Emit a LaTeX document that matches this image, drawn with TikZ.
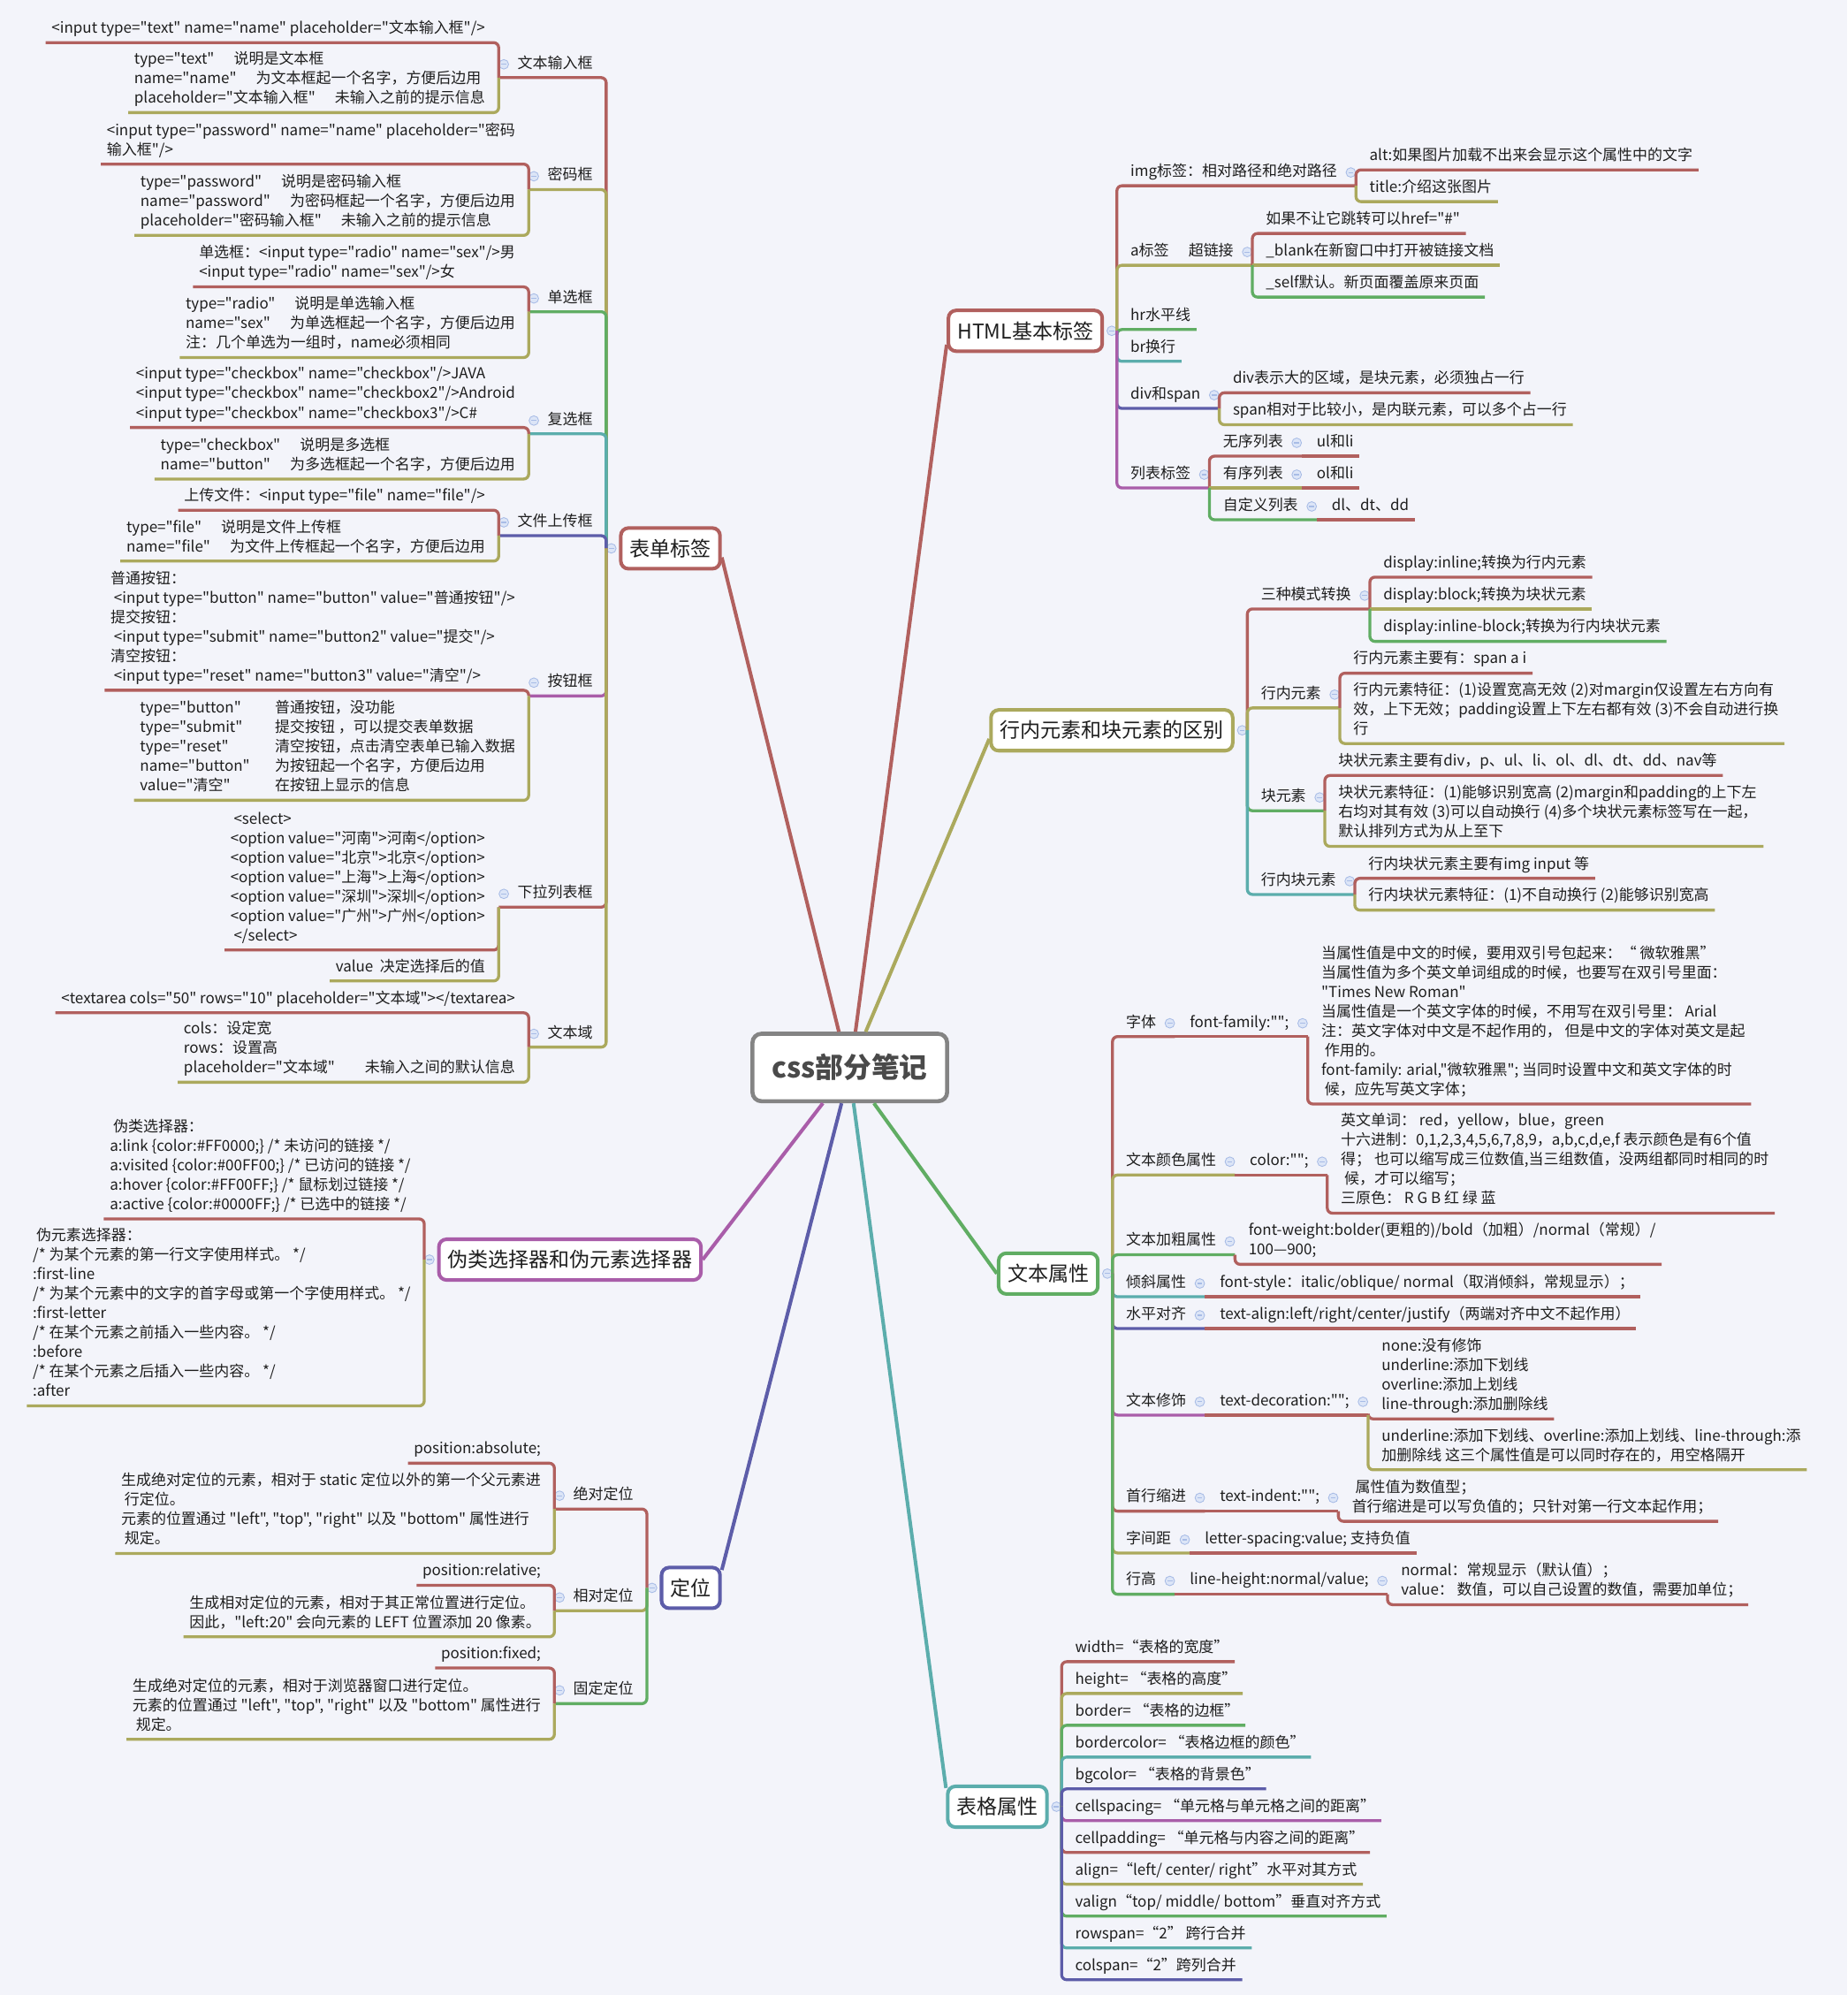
\documentclass[tikz,border=0pt]{standalone}
\usepackage{fontspec}
\setmainfont{Noto Sans CJK SC}[Ligatures=TeXOff]
\usepackage{xcolor}
\usepackage{tikz}
\usetikzlibrary{positioning,calc}
\definecolor{mapRed}{HTML}{B1605E}
\definecolor{mapOlive}{HTML}{ABA95D}
\definecolor{mapGreen}{HTML}{60AD63}
\definecolor{mapTeal}{HTML}{5BADAC}
\definecolor{mapBlue}{HTML}{5D5DA9}
\definecolor{mapPurple}{HTML}{A95DA9}
\definecolor{mapGrey}{HTML}{848484}
\definecolor{mapInk}{HTML}{1E1E1E}
\definecolor{mapRootInk}{HTML}{4A4A4A}
\definecolor{mapPaper}{HTML}{F3F4FA}
\definecolor{foldFill}{HTML}{DCE5F7}
\definecolor{foldEdge}{HTML}{A8BCE6}
\newcommand{\colgap}{\hspace{1.3em}}
\newcommand{\btncol}[1]{\makebox[106pt][l]{#1}}

\begin{document}
\begin{tikzpicture}[
  x=1pt,y=-1pt,
  every node/.style={text=mapInk},
  root/.style={rectangle,rounded corners=7pt,draw=mapGrey,line width=3.2pt,fill=white,minimum width=153pt,minimum height=53pt,font=\fontsize{22}{26}\selectfont\bfseries,text=mapRootInk},
  topic/.style={rectangle,rounded corners=6pt,line width=2.8pt,fill=white,minimum height=32pt,inner xsep=7pt,font=\fontsize{16}{19}\selectfont},
  note/.style={inner xsep=4.5pt,inner ysep=2.6pt,align=left,font=\fontsize{11.8}{15.3}\selectfont,execute at begin node=\strut,execute at end node=\strut},
  fold/.style={circle,draw=foldEdge,fill=foldFill,line width=0.6pt,inner sep=0pt,minimum size=7.5pt,path picture={\draw[foldEdge,line width=0.8pt] ([xshift=-2pt]path picture bounding box.center) -- ([xshift=2pt]path picture bounding box.center);}},
  wire/.style={line width=2.3pt,rounded corners=4pt},
  spoke/.style={line width=2.8pt}
]
\fill[mapPaper] (0,0) rectangle (1452,1568);
\useasboundingbox (0,0) rectangle (1452,1568);

\node[root] (css) at (668,839) {css部分笔记};
\node[topic,draw=mapRed] (form) at (527,431) {表单标签};
\node[topic,draw=mapRed] (html) at (806,260) {HTML基本标签};
\node[topic,draw=mapOlive] (disp) at (874,574) {行内元素和块元素的区别};
\node[topic,draw=mapGreen] (text) at (824,1001) {文本属性};
\node[topic,draw=mapTeal] (table) at (784,1420) {表格属性};
\node[topic,draw=mapBlue] (pos) at (543,1248) {定位};
\node[topic,draw=mapPurple] (pseudo) at (448,990) {伪类选择器和伪元素选择器};

\draw[spoke,mapRed] (css.107) -- (form.-10);
\draw[spoke,mapRed] (css.81) -- (html.190);
\draw[spoke,mapOlive] (css.66) -- (disp.184);
\draw[spoke,mapGreen] (css.-56) -- (text.west);
\draw[spoke,mapTeal] (css.-84) -- (table.160);
\draw[spoke,mapBlue] (css.-103) -- (pos.30);
\draw[spoke,mapPurple] (css.-127) -- (pseudo.east);

\node[fold,left=2pt of form] (form-f) {};
\coordinate (form-a) at (form-f.west);

\node[note,anchor=south east] (wb) at ($(form-a)+(-6,-370)$) {文本输入框};
\node[fold,left=2pt of wb] (wb-f) {};
\coordinate (wb-a) at (wb-f.west |- wb.south);
\node[note,anchor=south east] (wb1) at ($(wb-a)+(-6,-27.5)$) {<input type="text" name="name" placeholder="文本输入框"/>};
\node[note,anchor=south east] (wb2) at ($(wb-a)+(-6,27.5)$) {type="text"\colgap 说明是文本框\\name="name"\colgap 为文本框起一个名字，方便后边用\\placeholder="文本输入框"\colgap 未输入之前的提示信息};
\draw[wire,mapRed] (form-a) |- (wb-a);
\draw[wire,mapRed] (wb-a) |- (wb1.south west);
\draw[wire,mapOlive] (wb-a) |- (wb2.south west);

\node[note,anchor=south east] (mm) at ($(form-a)+(-6,-282)$) {密码框};
\node[fold,left=2pt of mm] (mm-f) {};
\coordinate (mm-a) at (mm-f.west |- mm.south);
\node[note,anchor=south east] (mm1) at ($(mm-a)+(-6,-20)$) {<input type="password" name="name" placeholder="密码\\输入框"/>};
\node[note,anchor=south east] (mm2) at ($(mm-a)+(-6,36)$) {type="password"\colgap 说明是密码输入框\\name="password"\colgap 为密码框起一个名字，方便后边用\\placeholder="密码输入框"\colgap 未输入之前的提示信息};
\draw[wire,mapOlive] (form-a) |- (mm-a);
\draw[wire,mapRed] (mm-a) |- (mm1.south west);
\draw[wire,mapOlive] (mm-a) |- (mm2.south west);

\node[note,anchor=south east] (dx) at ($(form-a)+(-6,-186)$) {单选框};
\node[fold,left=2pt of dx] (dx-f) {};
\coordinate (dx-a) at (dx-f.west |- dx.south);
\node[note,anchor=south east] (dx1) at ($(dx-a)+(-6,-19.5)$) {单选框：<input type="radio" name="sex"/>男\\<input type="radio" name="sex"/>女};
\node[note,anchor=south east] (dx2) at ($(dx-a)+(-6,36)$) {type="radio"\colgap 说明是单选输入框\\name="sex"\colgap 为单选框起一个名字，方便后边用\\注：几个单选为一组时，name必须相同};
\draw[wire,mapGreen] (form-a) |- (dx-a);
\draw[wire,mapRed] (dx-a) |- (dx1.south west);
\draw[wire,mapOlive] (dx-a) |- (dx2.south west);

\node[note,anchor=south east] (fx) at ($(form-a)+(-6,-90)$) {复选框};
\node[fold,left=2pt of fx] (fx-f) {};
\coordinate (fx-a) at (fx-f.west |- fx.south);
\node[note,anchor=south east] (fx1) at ($(fx-a)+(-6,-5)$) {<input type="checkbox" name="checkbox"/>JAVA\\<input type="checkbox" name="checkbox2"/>Android\\<input type="checkbox" name="checkbox3"/>C\#};
\node[note,anchor=south east] (fx2) at ($(fx-a)+(-6,35.5)$) {type="checkbox"\colgap 说明是多选框\\name="button"\colgap 为多选框起一个名字，方便后边用};
\draw[wire,mapTeal] (form-a) |- (fx-a);
\draw[wire,mapRed] (fx-a) |- (fx1.south west);
\draw[wire,mapOlive] (fx-a) |- (fx2.south west);

\node[note,anchor=south east] (sc) at ($(form-a)+(-6,-10)$) {文件上传框};
\node[fold,left=2pt of sc] (sc-f) {};
\coordinate (sc-a) at (sc-f.west |- sc.south);
\node[note,anchor=south east] (sc1) at ($(sc-a)+(-6,-20)$) {上传文件：<input type="file" name="file"/>};
\node[note,anchor=south east] (sc2) at ($(sc-a)+(-6,20)$) {type="file"\colgap 说明是文件上传框\\name="file"\colgap 为文件上传框起一个名字，方便后边用};
\draw[wire,mapBlue] (form-a) |- (sc-a);
\draw[wire,mapRed] (sc-a) |- (sc1.south west);
\draw[wire,mapOlive] (sc-a) |- (sc2.south west);

\node[note,anchor=south east] (an) at ($(form-a)+(-6,116)$) {按钮框};
\node[fold,left=2pt of an] (an-f) {};
\coordinate (an-a) at (an-f.west |- an.south);
\node[note,anchor=south east] (an1) at ($(an-a)+(-6,-4.5)$) {普通按钮：\\\ <input type="button" name="button" value="普通按钮"/>\\提交按钮：\\\ <input type="submit" name="button2" value="提交"/>\\清空按钮：\\\ <input type="reset" name="button3" value="清空"/>};
\node[note,anchor=south east] (an2) at ($(an-a)+(-6,82)$) {\btncol{type="button"}普通按钮，没功能\\\btncol{type="submit"}提交按钮 ，可以提交表单数据\\\btncol{type="reset"}清空按钮，点击清空表单已输入数据\\\btncol{name="button"}为按钮起一个名字，方便后边用\\\btncol{value="清空"}在按钮上显示的信息};
\draw[wire,mapPurple] (form-a) |- (an-a);
\draw[wire,mapRed] (an-a) |- (an1.south west);
\draw[wire,mapOlive] (an-a) |- (an2.south west);

\node[note,anchor=south east] (xl) at ($(form-a)+(-6,282)$) {下拉列表框};
\node[fold,left=2pt of xl] (xl-f) {};
\coordinate (xl-a) at (xl-f.west |- xl.south);
\node[note,anchor=south east] (xl1) at ($(xl-a)+(-6,33.7)$) {\ <select>\\<option value="河南">河南</option>\\<option value="北京">北京</option>\\<option value="上海">上海</option>\\<option value="深圳">深圳</option>\\<option value="广州">广州</option>\\\ </select>};
\node[note,anchor=south east] (xl2) at ($(xl-a)+(-6,58)$) {value\ \ 决定选择后的值};
\draw[wire,mapRed] (form-a) |- (xl-a);
\draw[wire,mapRed] (xl-a) |- (xl1.south west);
\draw[wire,mapOlive] (xl-a) |- (xl2.south west);

\node[note,anchor=south east] (wy) at ($(form-a)+(-6,392)$) {文本域};
\node[fold,left=2pt of wy] (wy-f) {};
\coordinate (wy-a) at (wy-f.west |- wy.south);
\node[note,anchor=south east] (wy1) at ($(wy-a)+(-6,-27)$) {<textarea cols="50" rows="10" placeholder="文本域"></textarea>};
\node[note,anchor=south east] (wy2) at ($(wy-a)+(-6,27.6)$) {cols：设定宽\\rows：设置高\\placeholder="文本域"\qquad 未输入之间的默认信息};
\draw[wire,mapOlive] (form-a) |- (wy-a);
\draw[wire,mapRed] (wy-a) |- (wy1.south west);
\draw[wire,mapOlive] (wy-a) |- (wy2.south west);

\node[fold,left=2pt of pseudo] (pseudo-f) {};
\coordinate (pseudo-a) at (pseudo-f.west);
\node[note,anchor=south east] (pc) at ($(pseudo-a)+(-6,-32)$) {\ 伪类选择器：\\a:link \{color:\#FF0000;\} /* 未访问的链接 */\\a:visited \{color:\#00FF00;\} /* 已访问的链接 */\\a:hover \{color:\#FF00FF;\} /* 鼠标划过链接 */\\a:active \{color:\#0000FF;\} /* 已选中的链接 */};
\node[note,anchor=south east] (pe) at ($(pseudo-a)+(-6,115)$) {\ 伪元素选择器：\\/* 为某个元素的第一行文字使用样式。 */\\:first-line\\/* 为某个元素中的文字的首字母或第一个字使用样式。 */\\:first-letter\\/* 在某个元素之前插入一些内容。 */\\:before\\/* 在某个元素之后插入一些内容。 */\\:after};
\draw[wire,mapRed] (pseudo-a) |- (pc.south west);
\draw[wire,mapOlive] (pseudo-a) |- (pe.south west);

\node[fold,left=2pt of pos] (pos-f) {};
\coordinate (pos-a) at (pos-f.west);

\node[note,anchor=south east] (jd) at ($(pos-a)+(-6,-62)$) {绝对定位};
\node[fold,left=2pt of jd] (jd-f) {};
\coordinate (jd-a) at (jd-f.west |- jd.south);
\node[note,anchor=south east] (jd1) at ($(jd-a)+(-6,-36)$) {position:absolute;};
\node[note,anchor=south east] (jd2) at ($(jd-a)+(-6,35)$) {生成绝对定位的元素，相对于 static 定位以外的第一个父元素进\\\ 行定位。\\元素的位置通过 "left", "top", "right" 以及 "bottom" 属性进行\\\ 规定。};
\draw[wire,mapRed] (pos-a) |- (jd-a);
\draw[wire,mapRed] (jd-a) |- (jd1.south west);
\draw[wire,mapOlive] (jd-a) |- (jd2.south west);

\node[note,anchor=south east] (xd) at ($(pos-a)+(-6,18)$) {相对定位};
\node[fold,left=2pt of xd] (xd-f) {};
\coordinate (xd-a) at (xd-f.west |- xd.south);
\node[note,anchor=south east] (xd1) at ($(xd-a)+(-6,-20)$) {position:relative;};
\node[note,anchor=south east] (xd2) at ($(xd-a)+(-6,20.5)$) {生成相对定位的元素，相对于其正常位置进行定位。\\因此，"left:20" 会向元素的 LEFT 位置添加 20 像素。};
\draw[wire,mapOlive] (pos-a) |- (xd-a);
\draw[wire,mapRed] (xd-a) |- (xd1.south west);
\draw[wire,mapOlive] (xd-a) |- (xd2.south west);

\node[note,anchor=south east] (gd) at ($(pos-a)+(-6,91)$) {固定定位};
\node[fold,left=2pt of gd] (gd-f) {};
\coordinate (gd-a) at (gd-f.west |- gd.south);
\node[note,anchor=south east] (gd1) at ($(gd-a)+(-6,-28)$) {position:fixed;};
\node[note,anchor=south east] (gd2) at ($(gd-a)+(-6,28)$) {生成绝对定位的元素，相对于浏览器窗口进行定位。\\元素的位置通过 "left", "top", "right" 以及 "bottom" 属性进行\\\ 规定。};
\draw[wire,mapGreen] (pos-a) |- (gd-a);
\draw[wire,mapRed] (gd-a) |- (gd1.south west);
\draw[wire,mapOlive] (gd-a) |- (gd2.south west);

\node[fold,right=2pt of html] (html-f) {};
\coordinate (html-a) at (html-f.east);

\node[note,anchor=south west] (img) at ($(html-a)+(6,-114)$) {img标签：相对路径和绝对路径};
\node[fold,right=2pt of img] (img-f) {};
\coordinate (img-a) at (img-f.east |- img.south);
\node[note,anchor=south west] (img1) at ($(img-a)+(6,-12.5)$) {alt:如果图片加载不出来会显示这个属性中的文字};
\node[note,anchor=south west] (img2) at ($(img-a)+(6,12.5)$) {title:介绍这张图片};
\draw[wire,mapRed] (html-a) |- (img-a);
\draw[wire,mapRed] (img-a) |- (img1.south east);
\draw[wire,mapOlive] (img-a) |- (img2.south east);

\node[note,anchor=south west] (link) at ($(html-a)+(6,-51.5)$) {a标签\colgap 超链接};
\node[fold,right=2pt of link] (link-f) {};
\coordinate (link-a) at (link-f.east |- link.south);
\node[note,anchor=south west] (link1) at ($(link-a)+(6,-25)$) {如果不让它跳转可以href="\#"};
\node[note,anchor=south west] (link2) at ($(link-a)+(6,0)$) {\_blank在新窗口中打开被链接文档};
\node[note,anchor=south west] (link3) at ($(link-a)+(6,25)$) {\_self默认。新页面覆盖原来页面};
\draw[wire,mapOlive] (html-a) |- (link-a);
\draw[wire,mapRed] (link-a) |- (link1.south east);
\draw[wire,mapOlive] (link-a) -- (link2.south east);
\draw[wire,mapGreen] (link-a) |- (link3.south east);

\node[note,anchor=south west] (hr) at ($(html-a)+(6,-1)$) {hr水平线};
\draw[wire,mapGreen] (html-a) |- (hr.south east);
\node[note,anchor=south west] (br) at ($(html-a)+(6,24)$) {br换行};
\draw[wire,mapTeal] (html-a) |- (br.south east);

\node[note,anchor=south west] (dv) at ($(html-a)+(6,61)$) {div和span};
\node[fold,right=2pt of dv] (dv-f) {};
\coordinate (dv-a) at (dv-f.east |- dv.south);
\node[note,anchor=south west] (dv1) at ($(dv-a)+(6,-12.3)$) {div表示大的区域，是块元素，必须独占一行};
\node[note,anchor=south west] (dv2) at ($(dv-a)+(6,12.8)$) {span相对于比较小，是内联元素，可以多个占一行};
\draw[wire,mapBlue] (html-a) |- (dv-a);
\draw[wire,mapRed] (dv-a) |- (dv1.south east);
\draw[wire,mapOlive] (dv-a) |- (dv2.south east);

\node[note,anchor=south west] (lb) at ($(html-a)+(6,123.5)$) {列表标签};
\node[fold,right=2pt of lb] (lb-f) {};
\coordinate (lb-a) at (lb-f.east |- lb.south);
\draw[wire,mapPurple] (html-a) |- (lb-a);
\node[note,anchor=south west] (ul) at ($(lb-a)+(6,-25)$) {无序列表};
\node[fold,right=2pt of ul] (ul-f) {};
\coordinate (ul-a) at (ul-f.east |- ul.south);
\node[note,right=7pt of ul-f] (ul1) {ul和li};
\draw[wire,mapRed] (lb-a) |- (ul-a);
\draw[wire,mapRed] (ul-a) -- (ul1.south east);
\node[note,anchor=south west] (ol) at ($(lb-a)+(6,0)$) {有序列表};
\node[fold,right=2pt of ol] (ol-f) {};
\coordinate (ol-a) at (ol-f.east |- ol.south);
\node[note,right=7pt of ol-f] (ol1) {ol和li};
\draw[wire,mapOlive] (lb-a) -- (ol-a);
\draw[wire,mapRed] (ol-a) -- (ol1.south east);
\node[note,anchor=south west] (dl) at ($(lb-a)+(6,25)$) {自定义列表};
\node[fold,right=2pt of dl] (dl-f) {};
\coordinate (dl-a) at (dl-f.east |- dl.south);
\node[note,right=7pt of dl-f] (dl1) {dl、dt、dd};
\draw[wire,mapGreen] (lb-a) |- (dl-a);
\draw[wire,mapRed] (dl-a) -- (dl1.south east);

\node[fold,right=2pt of disp] (disp-f) {};
\coordinate (disp-a) at (disp-f.east);

\node[note,anchor=south west] (ms) at ($(disp-a)+(6,-95.4)$) {三种模式转换};
\node[fold,right=2pt of ms] (ms-f) {};
\coordinate (ms-a) at (ms-f.east |- ms.south);
\node[note,anchor=south west] (ms1) at ($(ms-a)+(6,-25)$) {display:inline;转换为行内元素};
\node[note,anchor=south west] (ms2) at ($(ms-a)+(6,0)$) {display:block;转换为块状元素};
\node[note,anchor=south west] (ms3) at ($(ms-a)+(6,25.5)$) {display:inline-block;转换为行内块状元素};
\draw[wire,mapRed] (disp-a) |- (ms-a);
\draw[wire,mapRed] (ms-a) |- (ms1.south east);
\draw[wire,mapOlive] (ms-a) -- (ms2.south east);
\draw[wire,mapGreen] (ms-a) |- (ms3.south east);

\node[note,anchor=south west] (hn) at ($(disp-a)+(6,-17.6)$) {行内元素};
\node[fold,right=2pt of hn] (hn-f) {};
\coordinate (hn-a) at (hn-f.east |- hn.south);
\node[note,anchor=south west] (hn1) at ($(hn-a)+(6,-27.3)$) {行内元素主要有：span a i};
\node[note,anchor=south west] (hn2) at ($(hn-a)+(6,28)$) {行内元素特征：(1)设置宽高无效 (2)对margin仅设置左右方向有\\效，上下无效；padding设置上下左右都有效 (3)不会自动进行换\\行};
\draw[wire,mapOlive] (disp-a) |- (hn-a);
\draw[wire,mapRed] (hn-a) |- (hn1.south east);
\draw[wire,mapOlive] (hn-a) |- (hn2.south east);

\node[note,anchor=south west] (kk) at ($(disp-a)+(6,63.2)$) {块元素};
\node[fold,right=2pt of kk] (kk-f) {};
\coordinate (kk-a) at (kk-f.east |- kk.south);
\node[note,anchor=south west] (kk1) at ($(kk-a)+(6,-27.7)$) {块状元素主要有div，p、ul、li、ol、dl、dt、dd、nav等};
\node[note,anchor=south west] (kk2) at ($(kk-a)+(6,28)$) {块状元素特征：(1)能够识别宽高 (2)margin和padding的上下左\\右均对其有效 (3)可以自动换行 (4)多个块状元素标签写在一起，\\默认排列方式为从上至下};
\draw[wire,mapGreen] (disp-a) |- (kk-a);
\draw[wire,mapRed] (kk-a) |- (kk1.south east);
\draw[wire,mapOlive] (kk-a) |- (kk2.south east);

\node[note,anchor=south west] (hb) at ($(disp-a)+(6,129)$) {行内块元素};
\node[fold,right=2pt of hb] (hb-f) {};
\coordinate (hb-a) at (hb-f.east |- hb.south);
\node[note,anchor=south west] (hb1) at ($(hb-a)+(6,-12.7)$) {行内块状元素主要有img input 等};
\node[note,anchor=south west] (hb2) at ($(hb-a)+(6,12.3)$) {行内块状元素特征：(1)不自动换行 (2)能够识别宽高};
\draw[wire,mapTeal] (disp-a) |- (hb-a);
\draw[wire,mapRed] (hb-a) |- (hb1.south east);
\draw[wire,mapOlive] (hb-a) |- (hb2.south east);

\node[fold,right=2pt of text] (text-f) {};
\coordinate (text-a) at (text-f.east);

\node[note,anchor=south west] (zt) at ($(text-a)+(6,-186.3)$) {字体};
\node[fold,right=2pt of zt] (zt-f) {};
\coordinate (zt-a) at (zt-f.east |- zt.south);
\node[note,right=7pt of zt-f] (ff) {font-family:"";};
\node[fold,right=2pt of ff] (ff-f) {};
\coordinate (ff-a) at (ff-f.east |- ff.south);
\node[note,anchor=south west] (ff1) at ($(ff-a)+(6,53)$) {当属性值是中文的时候，要用双引号包起来：“ 微软雅黑”\\当属性值为多个英文单词组成的时候，也要写在双引号里面：\\"Times New Roman"\\当属性值是一个英文字体的时候，不用写在双引号里：\ Arial\\注：英文字体对中文是不起作用的，\ 但是中文的字体对英文是起\\\ 作用的。\\font-family: arial,"微软雅黑"; 当同时设置中文和英文字体的时\\\ 候，应先写英文字体；};
\draw[wire,mapRed] (text-a) |- (zt-a);
\draw[wire,mapRed] (zt-a) -- (ff-a);
\draw[wire,mapRed] (ff-a) |- (ff1.south east);

\node[note,anchor=south west] (ys) at ($(text-a)+(6,-77.5)$) {文本颜色属性};
\node[fold,right=2pt of ys] (ys-f) {};
\coordinate (ys-a) at (ys-f.east |- ys.south);
\node[note,right=7pt of ys-f] (cl) {color:"";};
\node[fold,right=2pt of cl] (cl-f) {};
\coordinate (cl-a) at (cl-f.east |- cl.south);
\node[note,anchor=south west] (cl1) at ($(cl-a)+(6,30)$) {英文单词：\ red，yellow，blue，green\\十六进制：0,1,2,3,4,5,6,7,8,9，a,b,c,d,e,f 表示颜色是有6个值\\得；\ 也可以缩写成三位数值,当三组数值，没两组都同时相同的时\\\ 候，才可以缩写；\\三原色：\ R G B 红 绿 蓝};
\draw[wire,mapOlive] (text-a) |- (ys-a);
\draw[wire,mapRed] (ys-a) -- (cl-a);
\draw[wire,mapRed] (cl-a) |- (cl1.south east);

\node[note,anchor=south west] (jc) at ($(text-a)+(6,-14.8)$) {文本加粗属性};
\node[fold,right=2pt of jc] (jc-f) {};
\coordinate (jc-a) at (jc-f.east |- jc.south);
\node[note,anchor=south west] (jc1) at ($(jc-a)+(6,7.5)$) {font-weight:bolder(更粗的)/bold（加粗）/normal（常规）/\\100—900;};
\draw[wire,mapGreen] (text-a) |- (jc-a);
\draw[wire,mapRed] (jc-a) |- (jc1.south east);

\node[note,anchor=south west] (qx) at ($(text-a)+(6,18.2)$) {倾斜属性};
\node[fold,right=2pt of qx] (qx-f) {};
\coordinate (qx-a) at (qx-f.east |- qx.south);
\node[note,right=7pt of qx-f] (qx1) {font-style：italic/oblique/ normal（取消倾斜，常规显示）；};
\draw[wire,mapTeal] (text-a) |- (qx-a);
\draw[wire,mapRed] (qx-a) -- (qx1.south east);

\node[note,anchor=south west] (sp) at ($(text-a)+(6,43.2)$) {水平对齐};
\node[fold,right=2pt of sp] (sp-f) {};
\coordinate (sp-a) at (sp-f.east |- sp.south);
\node[note,right=7pt of sp-f] (sp1) {text-align:left/right/center/justify（两端对齐中文不起作用）};
\draw[wire,mapBlue] (text-a) |- (sp-a);
\draw[wire,mapRed] (sp-a) -- (sp1.south east);

\node[note,anchor=south west] (xs) at ($(text-a)+(6,111.2)$) {文本修饰};
\node[fold,right=2pt of xs] (xs-f) {};
\coordinate (xs-a) at (xs-f.east |- xs.south);
\node[note,right=7pt of xs-f] (td) {text-decoration:"";};
\node[fold,right=2pt of td] (td-f) {};
\coordinate (td-a) at (td-f.east |- td.south);
\node[note,anchor=south west] (td1) at ($(td-a)+(6,3)$) {none:没有修饰\\underline:添加下划线\\overline:添加上划线\\line-through:添加删除线};
\node[note,anchor=south west] (td2) at ($(td-a)+(6,43)$) {underline:添加下划线、overline:添加上划线、line-through:添\\加删除线 这三个属性值是可以同时存在的，用空格隔开};
\draw[wire,mapPurple] (text-a) |- (xs-a);
\draw[wire,mapRed] (xs-a) -- (td-a);
\draw[wire,mapRed] (td-a) |- (td1.south east);
\draw[wire,mapOlive] (td-a) |- (td2.south east);

\node[note,anchor=south west] (sj) at ($(text-a)+(6,186.7)$) {首行缩进};
\node[fold,right=2pt of sj] (sj-f) {};
\coordinate (sj-a) at (sj-f.east |- sj.south);
\node[note,right=7pt of sj-f] (ti) {text-indent:"";};
\node[fold,right=2pt of ti] (ti-f) {};
\coordinate (ti-a) at (ti-f.east |- ti.south);
\node[note,anchor=south west] (ti1) at ($(ti-a)+(6,8)$) {\ 属性值为数值型；\\首行缩进是可以写负值的；只针对第一行文本起作用；};
\draw[wire,mapRed] (text-a) |- (sj-a);
\draw[wire,mapRed] (sj-a) -- (ti-a);
\draw[wire,mapRed] (ti-a) |- (ti1.south east);

\node[note,anchor=south west] (zj) at ($(text-a)+(6,219.6)$) {字间距};
\node[fold,right=2pt of zj] (zj-f) {};
\coordinate (zj-a) at (zj-f.east |- zj.south);
\node[note,right=7pt of zj-f] (zj1) {letter-spacing:value; 支持负值};
\draw[wire,mapOlive] (text-a) |- (zj-a);
\draw[wire,mapRed] (zj-a) -- (zj1.south east);

\node[note,anchor=south west] (hg) at ($(text-a)+(6,252)$) {行高};
\node[fold,right=2pt of hg] (hg-f) {};
\coordinate (hg-a) at (hg-f.east |- hg.south);
\node[note,right=7pt of hg-f] (lh) {line-height:normal/value;};
\node[fold,right=2pt of lh] (lh-f) {};
\coordinate (lh-a) at (lh-f.east |- lh.south);
\node[note,anchor=south west] (lh1) at ($(lh-a)+(6,8.2)$) {normal：常规显示（默认值）；\\value：\ 数值，可以自己设置的数值，需要加单位；};
\draw[wire,mapGreen] (text-a) |- (hg-a);
\draw[wire,mapRed] (hg-a) -- (lh-a);
\draw[wire,mapRed] (lh-a) |- (lh1.south east);

\node[fold,right=2pt of table] (table-f) {};
\coordinate (table-a) at (table-f.east);
\foreach \cell/\tone [count=\k] in {
  {width=“表格的宽度”}/mapRed,
  {height= “表格的高度”}/mapOlive,
  {border= “表格的边框”}/mapGreen,
  {bordercolor= “表格边框的颜色”}/mapTeal,
  {bgcolor= “表格的背景色”}/mapBlue,
  {cellspacing= “单元格与单元格之间的距离”}/mapPurple,
  {cellpadding= “单元格与内容之间的距离”}/mapRed,
  {align=“left/ center/ right”水平对其方式}/mapOlive,
  {valign“top/ middle/ bottom”垂直对齐方式}/mapGreen,
  {rowspan=“2” 跨行合并}/mapTeal,
  {colspan=“2”跨列合并}/mapBlue}
{
  \node[note,anchor=south west] (tb\k) at ($(table-a)+(6,{25*\k-139})$) {\cell};
  \draw[wire,\tone] (table-a) |- (tb\k.south east);
}
\end{tikzpicture}
\end{document}
